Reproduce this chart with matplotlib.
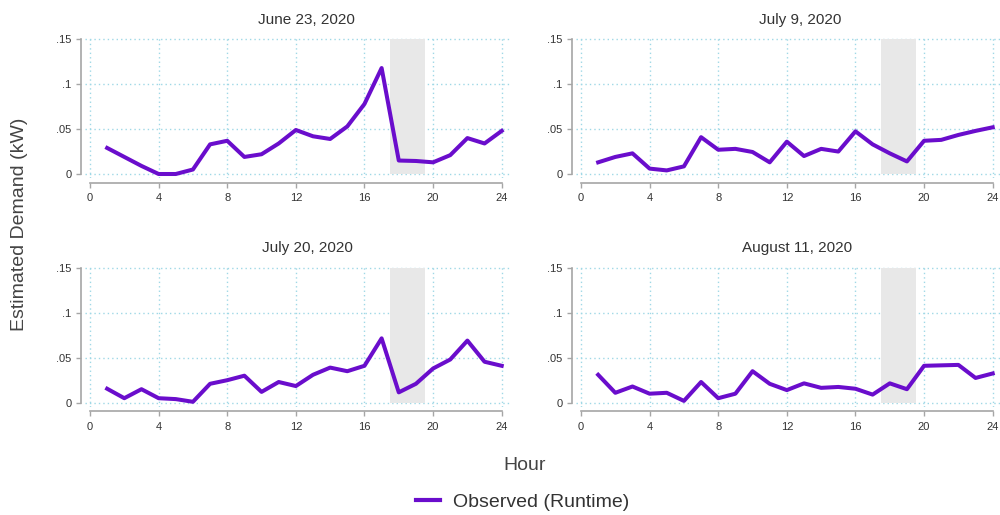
import matplotlib
matplotlib.use("Agg")
import matplotlib.pyplot as plt
from matplotlib.lines import Line2D

plt.rcParams['font.family'] = ['Liberation Sans', 'DejaVu Sans']

hours = list(range(1, 25))
titles = ["June 23, 2020", "July 9, 2020", "July 20, 2020", "August 11, 2020"]
june23 = [0.029, 0.019, 0.009, 0.000, 0.000, 0.005, 0.033, 0.037, 0.019, 0.022, 0.034, 0.049,
          0.042, 0.039, 0.053, 0.078, 0.118, 0.015, 0.0145, 0.013, 0.021, 0.040, 0.034, 0.048]
july9 = [0.013, 0.019, 0.023, 0.006, 0.004, 0.0085, 0.041, 0.027, 0.028, 0.0245, 0.013, 0.036,
         0.020, 0.028, 0.025, 0.0475, 0.033, 0.023, 0.014, 0.037, 0.038, 0.0435, 0.048, 0.052]
july20 = [0.0155, 0.005, 0.015, 0.005, 0.004, 0.001, 0.021, 0.025, 0.030, 0.012, 0.023, 0.0185,
          0.031, 0.039, 0.035, 0.041, 0.0715, 0.0115, 0.021, 0.038, 0.048, 0.069, 0.0455, 0.041]
aug11 = [0.031, 0.011, 0.018, 0.010, 0.011, 0.002, 0.023, 0.005, 0.010, 0.035, 0.021, 0.014,
         0.0215, 0.0165, 0.0175, 0.0155, 0.009, 0.0215, 0.015, 0.041, 0.0415, 0.042, 0.0275, 0.0325]
series = [june23, july9, july20, aug11]
xticks = [0, 4, 8, 12, 16, 20, 24]
yticks = [0, 0.05, 0.1, 0.15]
ytick_labels = ["0", ".05", ".1", ".15"]
band = (17.5, 19.5)
series_label = "Observed (Runtime)"

W, H = 1000, 515
fig = plt.figure(figsize=(W / 100, H / 100), dpi=100)

LINE_C = '#6a0dcc'
GRID_C = '#9fd8e6'
SPINE_C = '#a6a6a6'
TXT_C = '#333333'

# pixel positions (x of hour 0, x of hour 24, y of 0, y of .15)
panels = [(90, 501.7, 174, 39.3), (581, 992.7, 174, 39.3),
          (90, 501.7, 402.7, 267.7), (581, 992.7, 402.7, 267.7)]
title_pos = [(306, 20), (800, 20), (307, 248), (797, 248)]

for i, (x0, x24, y0, y15) in enumerate(panels):
    sx = (x24 - x0) / 24
    sy = (y0 - y15) / 0.15
    l, r = x0 - 5, x24 + 8.5
    t, b = y15 - 2, y0 + 4
    ax = fig.add_axes([l / W, 1 - b / H, (r - l) / W, (b - t) / H])
    ax.set_xlim((l - x0) / sx, (r - x0) / sx)
    ax.set_ylim(-(b - y0) / sy, 0.15 + (y15 - t) / sy)
    ax.set_axisbelow(True)
    ax.grid(True, linestyle=(0, (1, 2.2)), color=GRID_C, lw=1.0)
    ax.fill_between(band, 0, 0.15, color='#e8e8e8', lw=0, zorder=1)
    ax.plot(hours, series[i], color=LINE_C, lw=2.9, zorder=3, solid_joinstyle='round')
    for s in ['top', 'right']:
        ax.spines[s].set_visible(False)
    ax.spines['left'].set_position(('outward', 4 * 0.72))
    ax.spines['bottom'].set_position(('outward', 4.7 * 0.72))
    ax.spines['left'].set_bounds(0, 0.15)
    ax.spines['bottom'].set_bounds(0, 24)
    for s in ['left', 'bottom']:
        ax.spines[s].set_color(SPINE_C)
        ax.spines[s].set_linewidth(1.2)
    ax.set_xticks(xticks)
    ax.set_yticks(yticks)
    ax.set_yticklabels(ytick_labels)
    ax.tick_params(axis='both', length=3.6, width=1, color=SPINE_C, labelsize=8,
                   labelcolor=TXT_C)
    ax.tick_params(axis='x', pad=4)
    ax.tick_params(axis='y', pad=3.4)
    tx, ty = title_pos[i]
    fig.text(tx / W, 1 - ty / H, titles[i], ha='center', va='center', fontsize=11, color=TXT_C)

fig.text(20 / W, 1 - 224 / H, "Estimated Demand (kW)", rotation=90, ha='center', va='center',
         fontsize=14, color='#444444')
fig.text(525 / W, 1 - 465 / H, "Hour", ha='center', va='center', fontsize=14, color='#444444')

handle = Line2D([], [], color=LINE_C, lw=3)
fig.legend([handle], [series_label], loc='center', bbox_to_anchor=(522.5 / W, 1 - 502 / H),
           frameon=False, fontsize=14, handlelength=1.2, handletextpad=0.67,
           borderpad=0, borderaxespad=0, labelcolor='#333333')

fig.savefig("out.png", dpi=100, facecolor='white')
